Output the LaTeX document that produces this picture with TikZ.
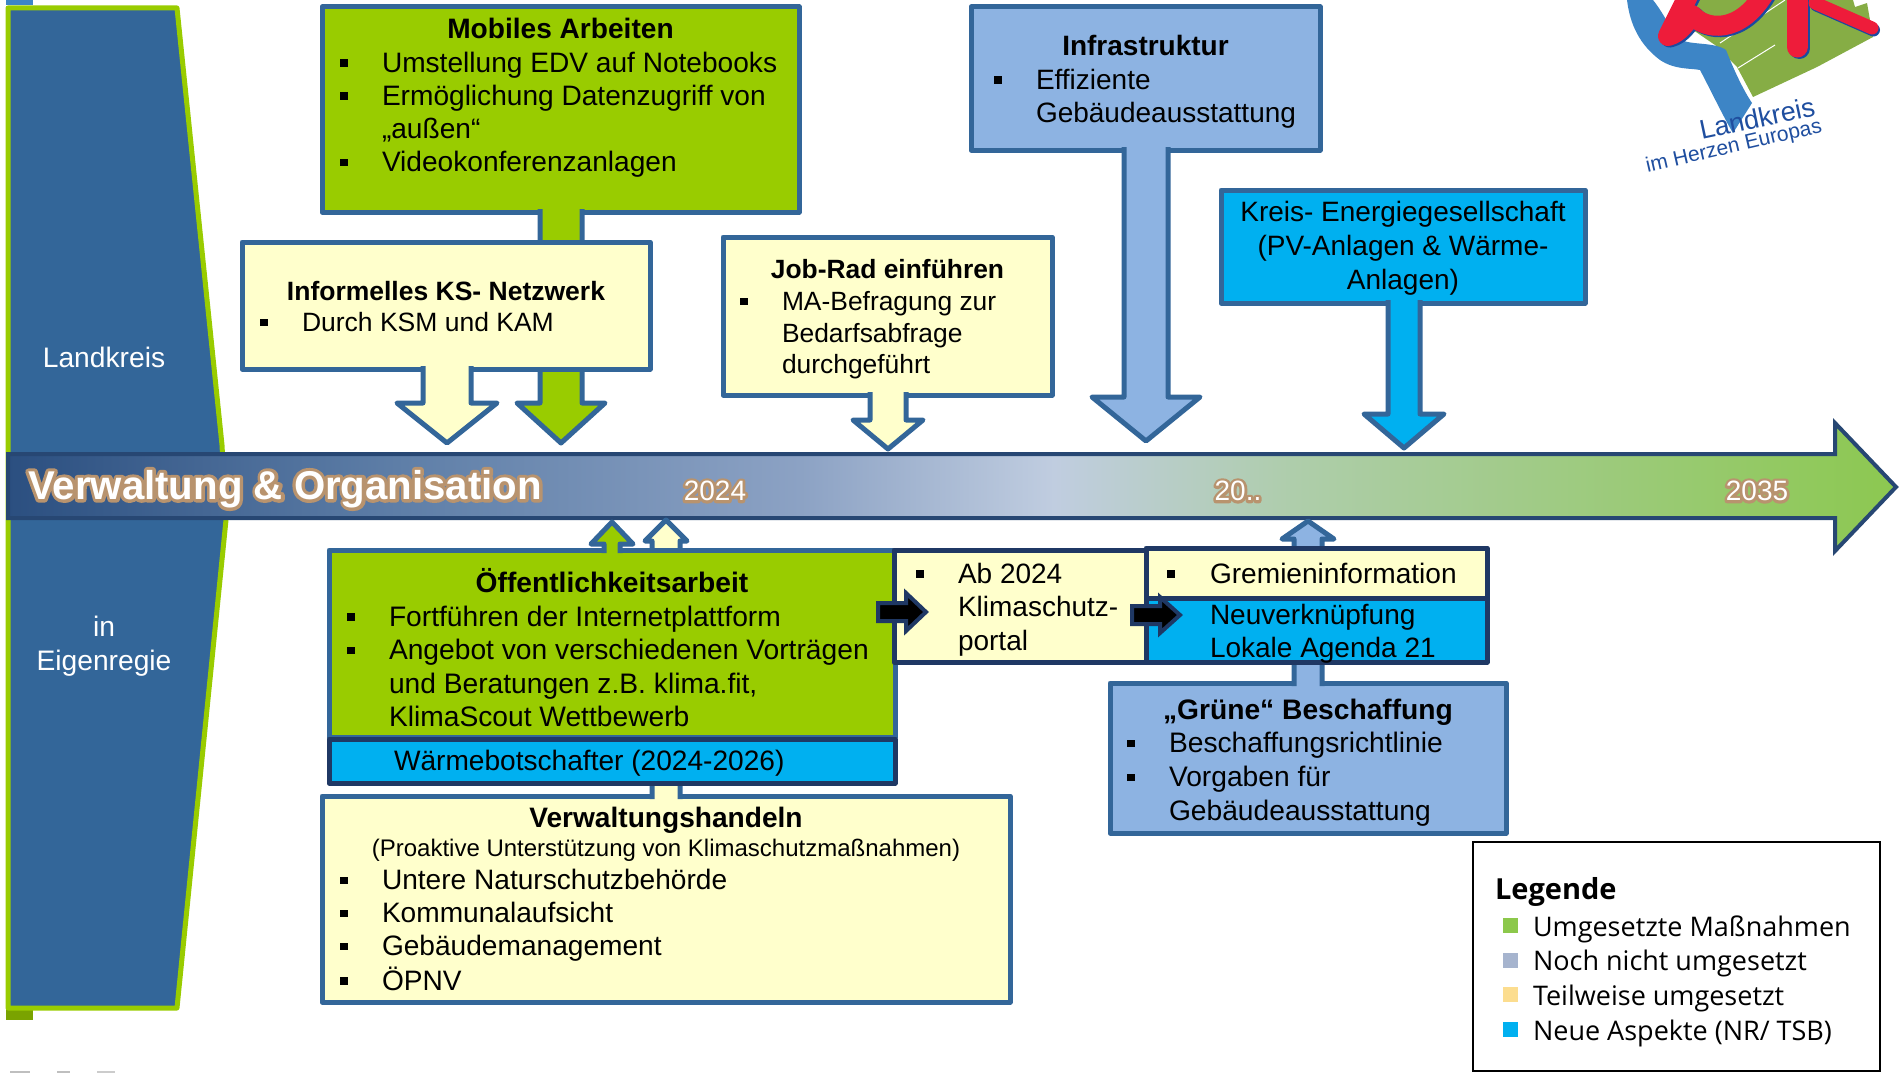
\documentclass[tikz,border=0pt]{standalone}
\usepackage{fontspec}
\usetikzlibrary{calc}
\setmainfont{Liberation Sans}
\newfontfamily\legF{Open Sans}
\definecolor{bord}{HTML}{336699}
\definecolor{dark}{HTML}{1F3864}
\definecolor{cgreen}{HTML}{99CC00}
\definecolor{cyell}{HTML}{FFFFCC}
\definecolor{clight}{HTML}{8DB3E2}
\definecolor{ccyan}{HTML}{00B0F0}
\definecolor{sideblue}{HTML}{336699}
\definecolor{glowc}{HTML}{B8936E}
\definecolor{bandA}{HTML}{2B4F80}
\definecolor{bandB}{HTML}{5F7FA8}
\definecolor{bandC}{HTML}{8CA2C4}
\definecolor{bandD}{HTML}{C0CDE0}
\definecolor{bandE}{HTML}{AECDAB}
\definecolor{bandF}{HTML}{8CC850}
\definecolor{lgA}{HTML}{8CC84B}
\definecolor{lgB}{HTML}{A6B4CE}
\definecolor{lgC}{HTML}{FCDD8F}
\definecolor{logoblue}{HTML}{3D85C6}
\definecolor{logored}{HTML}{EE1C3A}
\definecolor{logoshadow}{HTML}{1B4AA0}
\definecolor{logogreen}{HTML}{86AD45}
\definecolor{logotext}{HTML}{1F4E9F}
\pgfdeclarehorizontalshading{bandshade}{100bp}{color(0bp)=(bandA);color(25bp)=(bandA);color(35.5bp)=(bandB);color(46bp)=(bandC);color(52.7bp)=(bandD);color(59bp)=(bandE);color(75bp)=(bandF);color(100bp)=(bandF)}
\newcommand\bc[6]{\begin{minipage}[t][#2pt][t]{#1pt}\fontsize{#4}{#5}\selectfont\raggedright\parindent0pt\vspace*{\dimexpr #3pt-0.7\baselineskip+9pt\relax}#6\par\end{minipage}}
\newcommand\itm[3]{\par\leftskip=#2pt\relax\noindent\strut\llap{\hbox to #2pt{\kern\dimexpr #1pt-3.7pt\relax\rule[5.5pt]{7.4pt}{7.4pt}\hss}}#3\par}
\newcommand\plain[2]{\par\leftskip=#1pt\relax\noindent\strut #2\par}
\newcommand\ttl[1]{\par{\centering\bfseries\strut #1\par}}
\newcommand\leg[4]{\par\leftskip=#2pt\relax\noindent\strut\llap{\hbox to #2pt{\kern\dimexpr #1pt-7.5pt\relax{\color{#3}\rule[3pt]{15pt}{15pt}}\hss}}#4\par}
\newcommand\glowtxt[2]{\rlap{\color{glowc}\special{pdf:code 2 Tr #1 w 1 j}#2\special{pdf:code 0 Tr}}#2}
\newcommand\blockv[6]{\draw[#1] let \p1=(#2),\p2=(#3) in (\x2-#4pt,\y1) -- (\x2-#4pt,\y2+#6pt) -- (\x2-#5pt,\y2+#6pt) -- (\x2,\y2) -- (\x2+#5pt,\y2+#6pt) -- (\x2+#4pt,\y2+#6pt) -- (\x2+#4pt,\y1);}
\newcommand\blockh[5]{\draw[#1] let \p1=(#2),\p2=(#3) in (\x1,\y2+#4pt) -- (\x2-20pt,\y2+#4pt) -- (\x2-20pt,\y2+#5pt) -- (\x2,\y2) -- (\x2-20pt,\y2-#5pt) -- (\x2-20pt,\y2-#4pt) -- (\x1,\y2-#4pt) -- cycle;}
\tikzset{
 bx/.style={draw=bord,line width=5pt,inner sep=0pt,outer sep=0pt,anchor=north west,line join=round},
 dbx/.style={draw=dark,line width=5pt,inner sep=0pt,outer sep=0pt,anchor=north west,line join=round},
 arr/.style={draw=bord,line width=5pt,line join=round,fill=#1},
 darr/.style={draw=dark,line width=4pt,line join=miter,fill=black},
 white label/.style={text=white,font=\fontsize{28.2}{34}\selectfont,align=center},
 year/.style={text=white,font=\fontsize{28}{33}\selectfont,inner sep=0pt}
}
\begin{document}
\begin{tikzpicture}[x=1pt,y=-1pt]
\useasboundingbox (0,0) rectangle (1899,1073);
% small remnants at the edges
\fill[logoblue] (6,0) rectangle (33,5);
\fill[cgreen!80!black] (6,1010) rectangle (33,1020);
\fill[gray!50] (10,1071) rectangle (30,1073);
\fill[gray!50] (57,1071) rectangle (70,1073);
\fill[gray!40] (97,1071) rectangle (115,1073);
% side panel
\draw[fill=sideblue,draw=cgreen,line width=5pt,line join=round]
  (8,8) -- (177,8) -- (222,445) -- (226,520) -- (177,1008) -- (8,1008) -- cycle;
\node[white label] (lk) at (104,357) {Landkreis};
\node[white label] (eig) at (104,646) {in\\Eigenregie};
% time band
\path[draw=bandA!90!black,line width=4pt,line join=miter,shading=bandshade]
  (8,454) -- (1835,454) -- (1835,423) -- (1896,487) -- (1835,551) -- (1835,518) -- (8,518) -- cycle;
\node[anchor=west,text=white,inner sep=0pt,font=\fontsize{40.2}{44}\selectfont\bfseries] (vo) at (28,489) {\glowtxt{6.5}{Verwaltung \& Organisation}};
\node[year] (y1) at (715,491) {\glowtxt{5.5}{2024}};
\node[year] (y2) at (1238,491) {\glowtxt{5.5}{20..}};
\node[year] (y3) at (1757,491) {\glowtxt{5.5}{2035}};
% tips
\coordinate (tMob) at (561,443);
\coordinate (tInf) at (447,443);
\coordinate (tJob) at (888,449);
\coordinate (tInfra) at (1146,441);
\coordinate (tKreis) at (1404,448);
\coordinate (tOeff) at (612,522);
\coordinate (tVerw) at (666,520);
\coordinate (tGr) at (1308,521);
% Mobiles Arbeiten
\node[bx,fill=cgreen] (mob) at (322,7) {\bc{477}{205}{23}{28.1}{33.2}{%
 \ttl{Mobiles Arbeiten}
 \itm{22}{60}{Umstellung EDV auf Notebooks}
 \itm{22}{60}{Ermöglichung Datenzugriff von\\„außen“}
 \itm{22}{60}{Videokonferenzanlagen}}};
\blockv{arr=cgreen}{$(mob.south)+(0,-3)$}{tMob}{21}{44}{40}
% Informelles
\node[bx,fill=cyell] (inf) at (242,242) {\bc{408}{127}{49}{26.5}{31.5}{%
 \ttl{Informelles KS- Netzwerk}
 \itm{22}{60}{Durch KSM und KAM}}};
\blockv{arr=cyell}{$(inf.south)+(80,-3)$}{tInf}{24}{50}{40}
% Job-Rad
\node[bx,fill=cyell] (job) at (723,237) {\bc{329}{158}{32}{26.4}{31.6}{%
 \ttl{Job-Rad einführen}
 \vspace{1pt}
 \itm{21}{59}{MA-Befragung zur\\Bedarfsabfrage\\durchgeführt}}};
\blockv{arr=cyell}{$(job.south)+(0,-3)$}{tJob}{18}{35}{29}
% Infrastruktur
\node[bx,fill=clight] (infra) at (971,7) {\bc{349}{143}{40}{28}{33.4}{%
 \ttl{Infrastruktur}
 \itm{27}{65}{Effiziente\\Gebäudeausstattung}}};
\blockv{arr=clight}{$(infra.south)+(0,-3)$}{tInfra}{22}{54}{44}
% Kreis
\node[bx,fill=ccyan] (kreis) at (1221,190) {\bc{364}{113}{26}{28}{34}{%
 {\centering Kreis- Energiegesellschaft\\(PV-Anlagen \& Wärme-\\Anlagen)\par}}};
\blockv{arr=ccyan}{$(kreis.south)+(0,-3)$}{tKreis}{16}{40}{34}
% Verwaltungshandeln
\node[bx,fill=cyell] (verw) at (322,796) {\bc{688}{206}{22}{28.1}{33.1}{%
 \ttl{Verwaltungshandeln}
 {\centering\fontsize{24}{29.5}\selectfont(Proaktive Unterstützung von Klimaschutzmaßnahmen)\par}
 \itm{22}{60}{Untere Naturschutzbehörde}
 \itm{22}{60}{Kommunalaufsicht}
 \itm{22}{60}{Gebäudemanagement}
 \itm{22}{60}{ÖPNV}}};
\blockv{arr=cyell}{$(verw.north)+(0,3)$}{tVerw}{14}{21}{-21}
% Grüne Beschaffung
\node[bx,fill=clight] (gruen) at (1110,683) {\bc{396}{150}{27}{28.2}{33.7}{%
 \ttl{„Grüne“ Beschaffung}
 \itm{21}{59}{Beschaffungsrichtlinie}
 \itm{21}{59}{Vorgaben für\\Gebäudeausstattung}}};
\blockv{arr=clight}{$(gruen.north)+(0,3)$}{tGr}{14}{26}{-18}
% Öffentlichkeitsarbeit
\node[bx,fill=cgreen] (oeff) at (329,550) {\bc{566}{187}{33}{28.2}{33.6}{%
 \ttl{Öffentlichkeitsarbeit}
 \itm{22}{60}{Fortführen der Internetplattform}
 \itm{22}{60}{Angebot von verschiedenen Vorträgen\\und Beratungen z.B. klima.fit,\\KlimaScout Wettbewerb}}};
\blockv{arr=cgreen}{$(oeff.north)+(0,3)$}{tOeff}{8}{21}{-22}
\node[dbx,fill=ccyan] (waerme) at (329,739) {\bc{566}{44}{22}{28.1}{33}{%
 \plain{65}{Wärmebotschafter (2024-2026)}}};
% dark boxes
\node[dbx,fill=cyell] (ab) at (894,550) {\bc{252}{112}{24}{28}{33.5}{%
 \itm{26}{64}{Ab 2024\\Klimaschutz-\\portal}}};
\node[dbx,fill=cyell] (grem) at (1146,548) {\bc{341}{50}{26}{28.1}{33}{%
 \itm{25}{64}{Gremieninformation}}};
\node[dbx,fill=ccyan] (neu) at (1146,598) {\bc{341}{64}{17}{28}{33}{%
 \plain{64}{Neuverknüpfung\\Lokale Agenda 21}}};
% dark arrows
\coordinate (s1) at (878,612);
\coordinate (t1) at (926,612);
\coordinate (s2) at (1132,615);
\coordinate (t2) at (1180,615);
\blockh{darr}{s1}{t1}{9}{19}
\blockh{darr}{s2}{t2}{9}{18}
% legend
\node[draw=black,line width=2.5pt,inner sep=0pt,outer sep=0pt,anchor=north west,fill=white] (legend) at (1473,842) {\bc{407}{229}{48}{27}{34.7}{\legF%
 \par{\noindent\hspace*{22pt}\fontsize{29}{36}\selectfont\bfseries\strut Legende\par}
 \leg{37.5}{60}{lgA}{Umgesetzte Maßnahmen}
 \leg{37.5}{60}{lgB}{Noch nicht umgesetzt}
 \leg{37.5}{60}{lgC}{Teilweise umgesetzt}
 \leg{37.5}{60}{ccyan}{Neue Aspekte (NR/ TSB)}}};
% logo
\fill[logogreen] (1697,0) -- (1693,30) -- (1715,45) -- (1737,67) -- (1753,97) -- (1817,67) -- (1873,37) -- (1867,3) -- (1855,7) -- (1853,0) -- cycle;
\draw[white,line width=1pt] (1720,43) -- (1785,0);
\draw[white,line width=1pt] (1738,68) -- (1775,45);
\fill[logoblue] (1627,0) .. controls (1630,25) and (1640,45) .. (1660,60) .. controls (1675,70) and (1690,68) .. (1700,70) .. controls (1708,85) and (1725,120) .. (1733,133) -- (1752,103) .. controls (1740,85) and (1730,60) .. (1726,50) .. controls (1715,42) and (1690,45) .. (1682,40) .. controls (1670,30) and (1665,15) .. (1653,0) -- cycle;
\begin{scope}[line cap=round,line join=round]
\draw[logoshadow,line width=20pt,shift={(2,1.5)}] (1690,-8) -- (1668,36) .. controls (1680,33) and (1686,22) .. (1692,15) .. controls (1705,30) and (1740,35) .. (1765,-8);
\draw[logored,line width=20pt] (1690,-8) -- (1668,36) .. controls (1680,33) and (1686,22) .. (1692,15) .. controls (1705,30) and (1740,35) .. (1765,-8);
\draw[logoshadow,line width=21pt,shift={(2,1.5)}] (1797,-8) -- (1797,47);
\draw[logoshadow,line width=13pt,shift={(1.5,2)}] (1815,3) -- (1872,28);
\draw[logored,line width=21pt] (1797,-8) -- (1797,47);
\draw[logored,line width=13pt] (1815,3) -- (1872,28);
\end{scope}
\node[text=logotext,rotate=12,inner sep=0pt,font=\fontsize{27}{30}\selectfont] (lg1) at (1757,118) {Landkreis};
\node[text=logotext,rotate=13,inner sep=0pt,font=\fontsize{21}{24}\selectfont] (lg2) at (1734,147) {im Herzen Europas};
\end{tikzpicture}
\end{document}
